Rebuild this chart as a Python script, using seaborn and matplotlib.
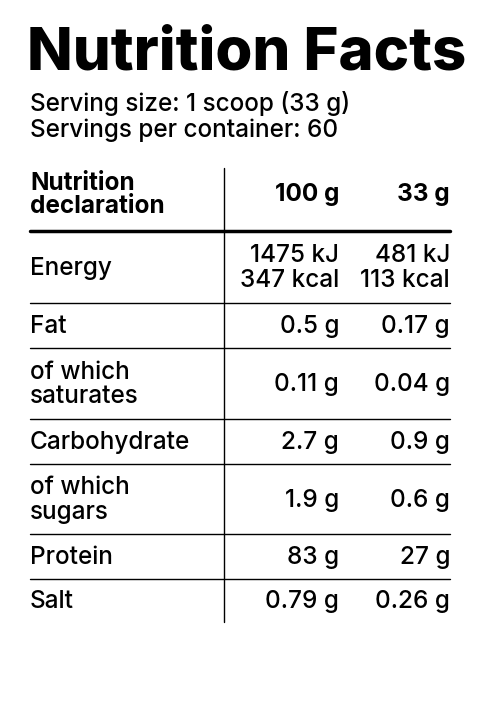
import matplotlib
matplotlib.use("Agg")
import matplotlib.pyplot as plt
import seaborn as sns

sns.set_theme(style="white")
plt.rcParams['font.family'] = ['Inter', 'DejaVu Sans']

title = "Nutrition Facts"
serving = ["Serving size: 1 scoop (33 g)", "Servings per container: 60"]
col_headers = ["Nutrition\ndeclaration", "100 g", "33 g"]
rows = ["Energy", "Fat", "of which\nsaturates", "Carbohydrate", "of which\nsugars", "Protein", "Salt"]
vals100 = ["1475 kJ\n347 kcal", "0.5 g", "0.11 g", "2.7 g", "1.9 g", "83 g", "0.79 g"]
vals33 = ["481 kJ\n113 kcal", "0.17 g", "0.04 g", "0.9 g", "0.6 g", "27 g", "0.26 g"]

bounds = [231, 303, 348, 419, 464, 534, 579, 622]

fig = plt.figure(figsize=(4.8, 7.15), dpi=100)
ax = fig.add_axes([0, 0, 1, 1])
ax.set_xlim(0, 480); ax.set_ylim(715, 0); ax.axis("off")

FS = 17.5
ax.text(27, 54, title, fontsize=43, fontweight="heavy", va="center", ha="left", color="black")
ax.text(30, 103, serving[0], fontsize=FS, fontweight="medium", va="center", color="black")
ax.text(30, 130, serving[1], fontsize=FS, fontweight="medium", va="center", color="black")

ax.text(30, 195, col_headers[0], fontsize=FS, fontweight="bold", va="center", linespacing=1.0, color="black")
ax.text(339, 195, col_headers[1], fontsize=FS, fontweight="bold", va="center", ha="right", color="black")
ax.text(450, 195, col_headers[2], fontsize=FS, fontweight="bold", va="center", ha="right", color="black")

ax.plot([30, 450], [231, 231], color="black", lw=2.5)
ax.plot([224, 224], [168, 622], color="black", lw=1)
for b in bounds[1:-1]:
    ax.plot([30, 450], [b, b], color="black", lw=1)

for i, (r, a, c) in enumerate(zip(rows, vals100, vals33)):
    y = (bounds[i] + bounds[i + 1]) / 2 + 1
    kw = dict(fontsize=FS, fontweight="medium", va="center", linespacing=1.1, color="black")
    ax.text(30, y, r, **kw)
    ax.text(339, y, a, ha="right", multialignment="right", **kw)
    ax.text(450, y, c, ha="right", multialignment="right", **kw)

fig.savefig("out.png", dpi=100, facecolor="white")
